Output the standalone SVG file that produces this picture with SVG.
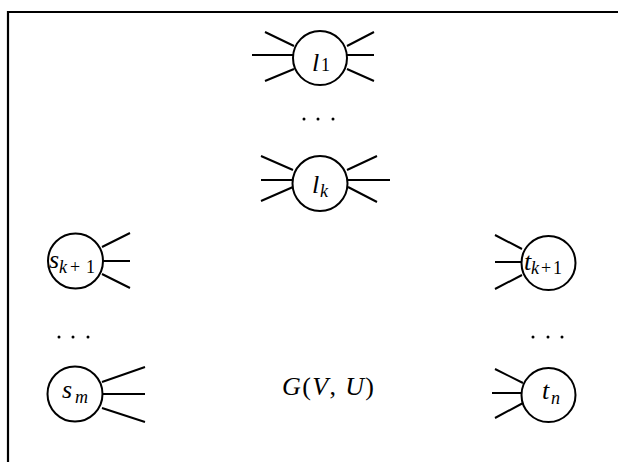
<svg xmlns="http://www.w3.org/2000/svg" width="618" height="462" viewBox="0 0 618 462">
<style>
.node{fill:#fff;stroke:#000;stroke-width:2}
.spoke{stroke:#000;stroke-width:2;fill:none;stroke-linecap:butt}
.frame{stroke:#000;stroke-width:2.2;fill:none}
.v{font-style:italic;font-size:26px}
.sub{font-size:18px}
.subi{font-size:18px;font-style:italic}
.dot{fill:#000}
</style>
<rect width="618" height="462" fill="#fff"/>
<path class="frame" d="M8,462 V12 H618"/>
<g id="connectors">
  <path class="spoke" d="M265,32 L294,46 M252,55 L293,55 M265,81 L294,69 M347,46 L374,32 M347,55 L374,55 M347,69 L374,81"/>
  <path class="spoke" d="M261,156 L293,170 M261,180 L293,180 M261,201 L293,187 M347,170 L377,156 M348,180 L390,180 M348,187 L377,202"/>
  <path class="spoke" d="M102,247 L130,233 M103,261 L130,261 M102,274 L130,288"/>
  <path class="spoke" d="M495,235 L522,249 M495,262 L522,262 M495,289 L522,275"/>
  <path class="spoke" d="M102,382 L145,367 M103,394 L145,394 M102,408 L145,422"/>
  <path class="spoke" d="M495,369 L523,383 M492,393 L522,393 M495,418 L523,403"/>
</g>
<g font-family="'Liberation Serif', 'Times New Roman', serif" fill="#000">
<g id="l1">
  <circle class="node" cx="320" cy="58" r="27"/>
  <text x="312" y="71" class="v">l</text>
  <text x="321" y="71" class="sub">1</text>
</g>
<g id="dots-top">
  <circle class="dot" cx="304" cy="119" r="1.5"/>
  <circle class="dot" cx="318" cy="119" r="1.5"/>
  <circle class="dot" cx="333" cy="119" r="1.5"/>
</g>
<g id="lk">
  <circle class="node" cx="320" cy="183.5" r="27.5"/>
  <text x="312" y="193" class="v">l</text>
  <text x="320" y="197" class="subi">k</text>
</g>
<g id="sk1">
  <circle class="node" cx="75.5" cy="261" r="27.5"/>
  <text x="49" y="268" class="v">s</text>
  <text x="59" y="273" class="subi">k</text>
  <text x="70" y="273" class="sub">+</text>
  <text x="86" y="273" class="sub">1</text>
</g>
<g id="tk1">
  <circle class="node" cx="548.5" cy="263" r="27"/>
  <text x="524" y="270" class="v">t</text>
  <text x="531" y="274" class="subi">k</text>
  <text x="541" y="274" class="sub">+</text>
  <text x="553" y="274" class="sub">1</text>
</g>
<g id="dots-left">
  <circle class="dot" cx="59" cy="337" r="1.5"/>
  <circle class="dot" cx="73" cy="337" r="1.5"/>
  <circle class="dot" cx="88" cy="337" r="1.5"/>
</g>
<g id="dots-right">
  <circle class="dot" cx="533" cy="337" r="1.5"/>
  <circle class="dot" cx="548" cy="337" r="1.5"/>
  <circle class="dot" cx="562" cy="337" r="1.5"/>
</g>
<g id="sm">
  <circle class="node" cx="75" cy="394" r="27.5"/>
  <text x="62" y="398" class="v">s</text>
  <text x="75" y="403" class="subi">m</text>
</g>
<g id="G">
  <text x="282" y="395" font-size="26" textLength="92" lengthAdjust="spacing"><tspan font-style="italic">G</tspan>(<tspan font-style="italic">V</tspan>, <tspan font-style="italic">U</tspan>)</text>
</g>
<g id="tn">
  <circle class="node" cx="548.5" cy="395" r="27"/>
  <text x="542" y="399" class="v">t</text>
  <text x="551" y="404" class="subi">n</text>
</g>
</g>
</svg>
